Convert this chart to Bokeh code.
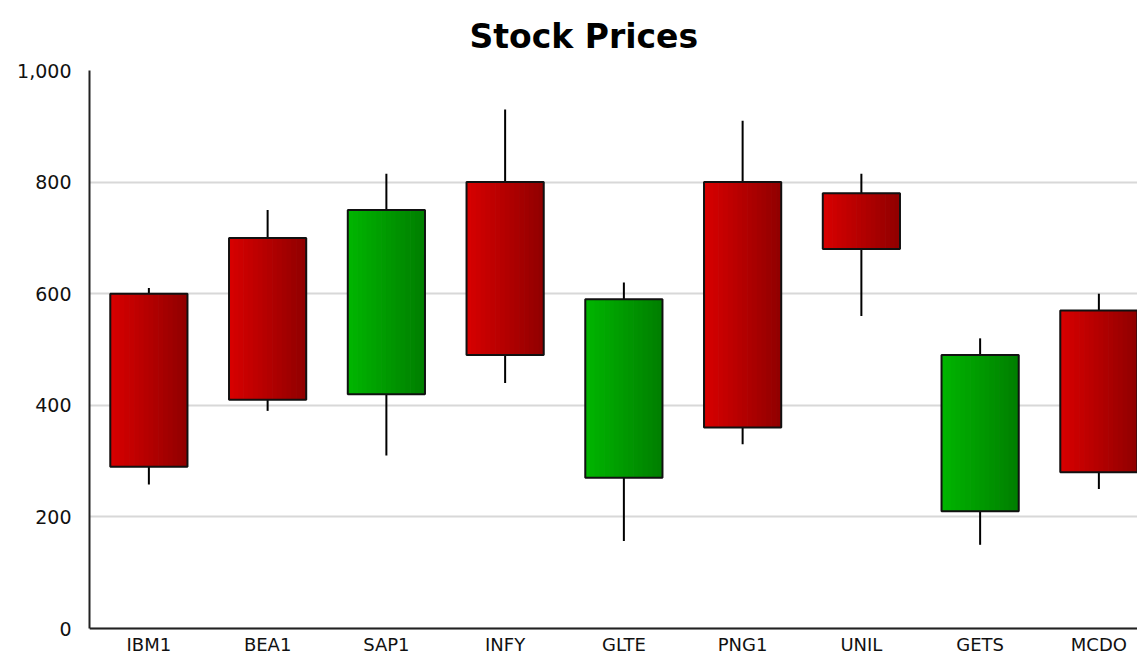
from bokeh.plotting import figure
from bokeh.models import Range1d, FixedTicker, NumeralTickFormatter, Title, Span
from bokeh.core.properties import value
from bokeh.embed import file_html
from bokeh.resources import INLINE

categories = ["IBM1", "BEA1", "SAP1", "INFY", "GLTE", "PNG1", "UNIL", "GETS", "MCDO"]
open_ = [600, 700, 420, 800, 270, 800, 780, 210, 570]
close = [290, 410, 750, 490, 590, 360, 680, 490, 280]
high = [610, 750, 815, 930, 620, 910, 815, 520, 600]
low = [258, 390, 310, 440, 157, 330, 560, 150, 250]
y_ticks = [0, 200, 400, 600, 800, 1000]

W, H = 1137, 657
left_border, top_border = 89, 70
zero_px = 628                      # pixel row of value 0
unit_px = 118.75                   # pixels per category
n = len(categories)
x_end = (W - left_border) / unit_px
px_per_val = (zero_px - top_border) / 1000.0
y_lo = -(H - zero_px) / px_per_val

p = figure(width=W, height=H, output_backend="svg", toolbar_location=None,
           x_range=Range1d(0, x_end), y_range=Range1d(y_lo, 1000),
           min_border_left=left_border, min_border_right=0,
           min_border_top=top_border, min_border_bottom=0)
p.title = None
t = Title(text="Stock Prices", text_font="DejaVu Sans", text_font_size="33px",
          text_font_style="bold", text_color="#000000", align="left", offset=380,
          standoff=29)
p.add_layout(t, "above")
p.outline_line_color = None
p.background_fill_color = "white"

xs = [i + 0.5 for i in range(n)]
box_w = 0.65
tops = [max(o, c) for o, c in zip(open_, close)]
bots = [min(o, c) for o, c in zip(open_, close)]
rising = [c > o for o, c in zip(open_, close)]

p.ygrid.grid_line_color = "#d8d8d8"
p.ygrid.grid_line_width = 2
p.ygrid.ticker = FixedTicker(ticks=y_ticks)
p.xgrid.grid_line_color = None

# wicks
p.segment(x0=xs, x1=xs, y0=low, y1=high, line_color="black", line_width=2)

# gradient bodies drawn as thin strips
N = 16
red0, red1 = (0xd6, 0x00, 0x00), (0x92, 0x00, 0x00)
grn0, grn1 = (0x00, 0xb4, 0x00), (0x00, 0x80, 0x00)
def mix(a, b, f):
    return "#%02x%02x%02x" % tuple(int(round(a[j] + (b[j] - a[j]) * f)) for j in range(3))
sx, st, sb, sc = [], [], [], []
for i in range(n):
    c0, c1 = (grn0, grn1) if rising[i] else (red0, red1)
    for k in range(N):
        f = k / (N - 1)
        sx.append(xs[i] - box_w / 2 + (k + 0.5) * box_w / N)
        st.append(tops[i]); sb.append(bots[i]); sc.append(mix(c0, c1, f))
p.vbar(x=sx, top=st, bottom=sb, width=box_w / N * 1.15, fill_color=sc, line_color=None)
p.vbar(x=xs, top=tops, bottom=bots, width=box_w, fill_color=None, line_color="#111111", line_width=2)

# x axis line at zero and category labels below it
p.xaxis.visible = False
p.add_layout(Span(location=0, dimension="width", line_color="#222222", line_width=2))
p.text(x=xs, y=[0] * n, text=categories, text_align="center", text_baseline="middle",
       y_offset=16, text_font=value("DejaVu Sans"), text_font_size="18px", text_color="#111111")

# y axis
p.yaxis.ticker = FixedTicker(ticks=y_ticks)
p.yaxis.formatter = NumeralTickFormatter(format="0,0")
p.yaxis.bounds = (0, 1000)
ax = p.yaxis[0]
ax.axis_line_color = "#222222"
ax.axis_line_width = 2
ax.major_tick_line_color = None
ax.minor_tick_line_color = None
ax.major_label_text_font = "DejaVu Sans"
ax.major_label_text_font_size = "19px"
ax.major_label_text_color = "#111111"
ax.major_label_standoff = 12

open("out.html", "w").write(file_html(p, INLINE))
